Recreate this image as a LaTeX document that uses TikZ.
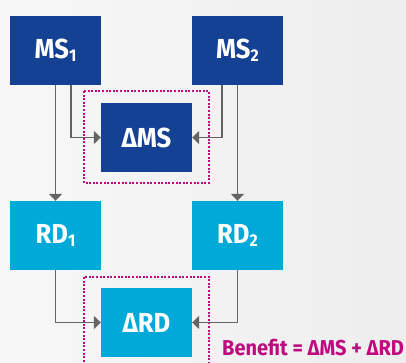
\documentclass[tikz,border=0pt]{standalone}
\usepackage{fontspec}
\setmainfont{Fira Sans}[FakeStretch=0.93]
\usetikzlibrary{arrows.meta}
\definecolor{dblue}{HTML}{154194}
\definecolor{lblue}{HTML}{00A9D8}
\definecolor{mag}{HTML}{C0097F}
\definecolor{arr}{HTML}{646464}
\tikzset{
  box/.style={minimum width=91pt,minimum height=69pt,inner sep=0pt,text=white,font=\fontsize{27.5}{29}\selectfont\bfseries},
  ms/.style={box,fill=dblue},
  rd/.style={box,fill=lblue},
  conn/.style={draw=arr,line width=1.4pt,-{Triangle[length=7pt,width=13pt]}},
  dotbox/.style={draw=mag,line width=2pt,dash pattern=on 2pt off 1.6pt},
}
\newcommand{\sbs}[1]{\raisebox{-0.12em}{\fontsize{17}{17}\selectfont #1}}
\begin{document}
\begin{tikzpicture}[x=1pt,y=-1pt]
\useasboundingbox (0,0) rectangle (406,363);
\shade[left color=black!3,right color=black!7] (0,0) rectangle (406,363);
\begin{scope}
\clip (0,0) rectangle (406,363);
\draw[dotbox] (84,91) rectangle (209,183);
\draw[dotbox] (84,277) rectangle (209,375);
\end{scope}
\node[ms] (ms1) at (55.5,50.5) {MS\sbs{1}};
\node[ms] (ms2) at (237.5,50.5) {MS\sbs{2}};
\node[ms] (dms) at (146.5,137.5) {ΔMS};
\node[rd] (rd1) at (55.5,235.5) {RD\sbs{1}};
\node[rd] (rd2) at (237.5,235.5) {RD\sbs{2}};
\node[rd] (drd) at (146.5,322.5) {ΔRD};
\draw[conn] (ms1.south) -- (rd1.north);
\draw[conn] (ms2.south) -- (rd2.north);
\draw[conn] ([xshift=15.5pt]ms1.south) |- (dms.west);
\draw[conn] ([xshift=-15.5pt]ms2.south) |- (dms.east);
\draw[conn] (rd1.south) |- (drd.west);
\draw[conn] (rd2.south) |- (drd.east);
\node[anchor=base west,inner sep=0pt,text=mag,font=\fontsize{21.5}{23}\selectfont\bfseries] (ben) at (222,355) {Benefit = ΔMS + ΔRD};
\end{tikzpicture}
\end{document}
